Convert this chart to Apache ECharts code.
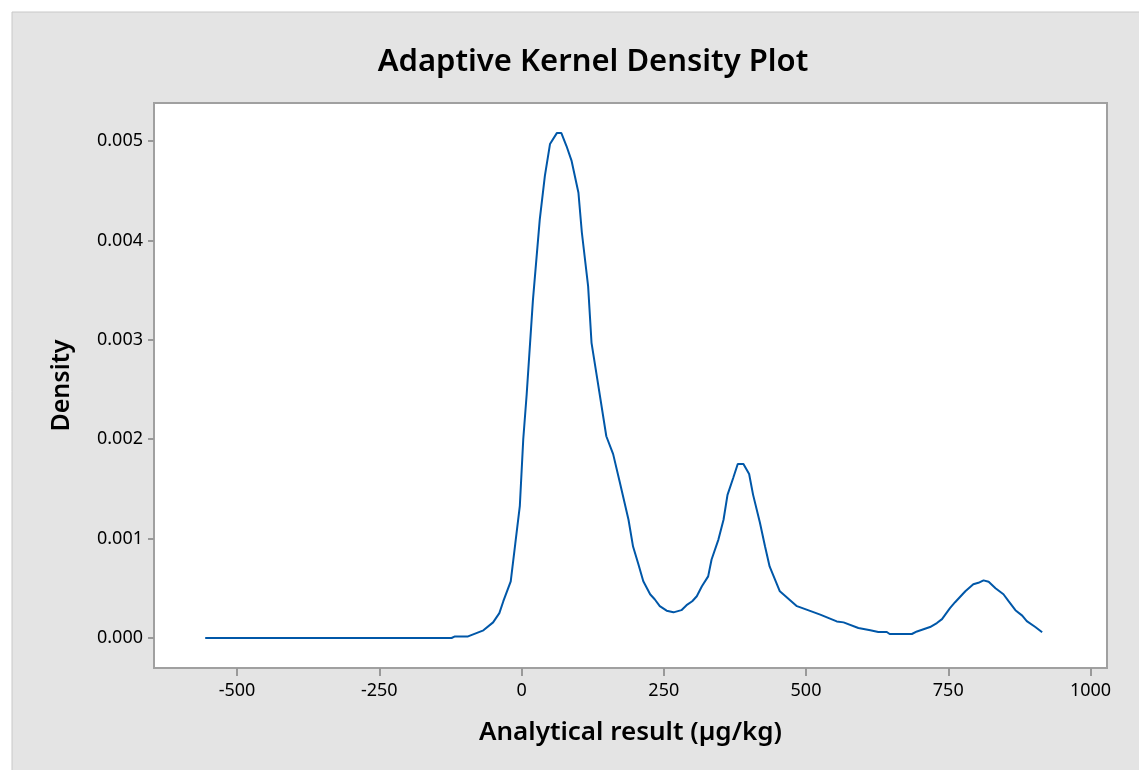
<!DOCTYPE html>
<html>
<head>
<meta charset="utf-8">
<script src="https://cdn.jsdelivr.net/npm/echarts@6/dist/echarts.min.js"></script>
<style>
  html, body { margin: 0; padding: 0; background: #ffffff; }
  #chart { width: 1139px; height: 770px; }
</style>
</head>
<body>
<div id="chart"></div>
<script>
// analytical result (µg/kg) and estimated density
const results = [
  -556, -123, -117, -94, -67, -50, -39, -32, -19, -11, -3, 3, 9, 20, 32, 41, 50, 62, 70, 79,
  88, 100, 106, 117, 123, 133, 149, 161, 173, 188, 196, 205, 214, 226, 234, 243, 255, 267, 281, 290,
  300, 308, 317, 328, 334, 346, 355, 362, 372, 380, 390, 400, 407, 419, 428, 436, 454, 468, 484, 501,
  525, 554, 566, 592, 613, 627, 642, 647, 686, 695, 718, 730, 739, 753, 762, 780, 794, 803, 812, 821,
  833, 847, 856, 868, 880, 888, 903, 915
];
const density = [
  0, 0, 0.000016, 0.000016, 0.000077, 0.000157, 0.00025, 0.00037, 0.00057, 0.00095, 0.00133, 0.002, 0.00245, 0.0034, 0.00421, 0.00465, 0.00497, 0.00508, 0.00508, 0.00495,
  0.0048, 0.00448, 0.00408, 0.00354, 0.00297, 0.00261, 0.00203, 0.00185, 0.00156, 0.00119, 0.00092, 0.00075, 0.00057, 0.00044, 0.00039, 0.00032, 0.000275, 0.000258, 0.00028, 0.00033,
  0.00037, 0.00042, 0.00052, 0.00062, 0.00079, 0.00099, 0.00119, 0.00144, 0.00161, 0.00175, 0.00175, 0.00165, 0.00144, 0.00116, 0.00092, 0.00072, 0.00047, 0.0004, 0.00032, 0.000285,
  0.000235, 0.000167, 0.000157, 0.0001, 0.000077, 0.00006, 0.00006, 0.00004, 0.00004, 0.000066, 0.00011, 0.00015, 0.00019, 0.0003, 0.00036, 0.00047, 0.00054, 0.000555, 0.00058, 0.000565,
  0.0005, 0.00044, 0.00037, 0.00028, 0.000225, 0.00017, 0.00011, 0.000057
];
const xTicks = [-500, -250, 0, 250, 500, 750, 1000];
const yTicks = [0, 0.001, 0.002, 0.003, 0.004, 0.005];

const font = "'Noto Sans', 'Open Sans', sans-serif";
const gray = "#a0a0a0";

let chart = echarts.init(document.getElementById("chart"));
let option = {
    animation: false,
    textStyle: { fontFamily: font },
    title: {
        text: "Adaptive Kernel Density Plot",
        left: 588,
        top: 42,
        textAlign: "center",
        textStyle: { fontSize: 31, fontWeight: 600, color: "#000", fontFamily: font },
    },
    graphic: [
        {
            type: "rect",
            z: -10,
            silent: true,
            shape: { x: 12, y: 12, width: 1140, height: 770 },
            style: { fill: "#e4e4e4", stroke: "#c8c8c8", lineWidth: 1 },
        },
    ],
    grid: {
        left: 154,
        top: 103,
        right: 32,
        bottom: 102,
        show: true,
        backgroundColor: "#ffffff",
        borderColor: gray,
        borderWidth: 2,
    },
    xAxis: {
        type: "value",
        position: "bottom",
        min: -646,
        max: 1029,
        name: "Analytical result (µg/kg)",
        nameLocation: "middle",
        nameGap: 52,
        nameTextStyle: { fontSize: 26, fontWeight: 600, color: "#000", fontFamily: font },
        axisLine: { show: true, onZero: false, lineStyle: { color: gray, width: 2 } },
        splitLine: { show: false },
        axisTick: { show: true, inside: false, length: 8, customValues: xTicks, lineStyle: { color: "#999999", width: 2 } },
        axisLabel: { customValues: xTicks, fontSize: 18, color: "#000", margin: 14, formatter: (v) => String(v) },
    },
    yAxis: {
        type: "value",
        position: "left",
        min: -0.000302,
        max: 0.005383,
        name: "Density",
        nameLocation: "middle",
        nameGap: 80,
        nameTextStyle: { fontSize: 25, fontWeight: 600, color: "#000", fontFamily: font },
        axisLine: { show: true, onZero: false, lineStyle: { color: gray, width: 2 } },
        splitLine: { show: false },
        axisTick: { show: true, inside: false, length: 6, customValues: yTicks, lineStyle: { color: "#999999", width: 2 } },
        axisLabel: {
            customValues: yTicks,
            fontSize: 18,
            color: "#000",
            margin: 11,
            formatter: (v) => v.toFixed(3),
        },
    },
    series: [
        {
            type: "line",
            showSymbol: false,
            data: results.map((r, i) => [r, density[i]]),
            lineStyle: { color: "#0057a8", width: 2 },
        },
    ],
};
chart.setOption(option);
</script>
</body>
</html>
